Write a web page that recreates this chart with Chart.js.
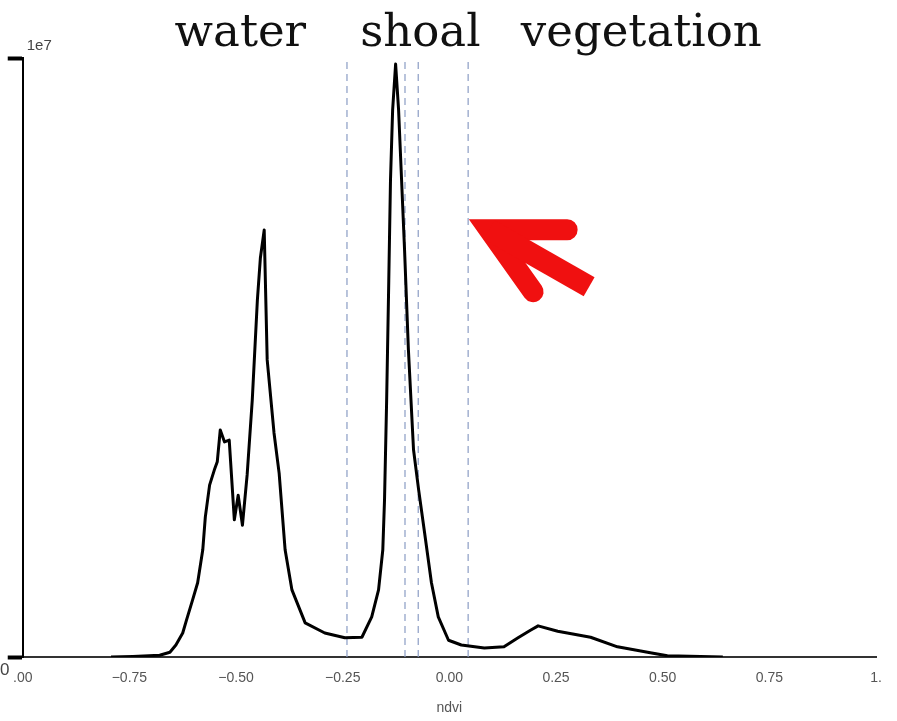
<!DOCTYPE html>
<html>
<head>
<meta charset="utf-8">
<script src="https://cdn.jsdelivr.net/npm/chart.js@4"></script>
<style>
  html, body { margin: 0; padding: 0; background: #fff; }
  #wrap { width: 897px; height: 721px; position: relative; }
</style>
</head>
<body>
<div id="wrap"><canvas id="myChart" width="897" height="721"></canvas></div>
<script>
// ndvi histogram, counts in units of 1e7
const ndvi = [-0.793, -0.742, -0.679, -0.655, -0.641, -0.625, -0.616, -0.602, -0.590, -0.578,
  -0.572, -0.562, -0.551, -0.544, -0.537, -0.527, -0.516, -0.504, -0.495, -0.485,
  -0.474, -0.462, -0.450, -0.443, -0.434, -0.427, -0.411, -0.399, -0.385, -0.369,
  -0.338, -0.292, -0.245, -0.205, -0.182, -0.166, -0.156, -0.152, -0.147, -0.142,
  -0.138, -0.133, -0.126, -0.119, -0.112, -0.105, -0.096, -0.084, -0.072, -0.058,
  -0.042, -0.026, -0.002, 0.028, 0.082, 0.128, 0.161, 0.191, 0.208, 0.254,
  0.331, 0.394, 0.471, 0.511, 0.641];
const counts = [0.000, 0.001, 0.003, 0.008, 0.020, 0.040, 0.062, 0.095, 0.124, 0.179,
  0.234, 0.287, 0.312, 0.326, 0.379, 0.359, 0.362, 0.229, 0.270, 0.220,
  0.304, 0.429, 0.596, 0.666, 0.713, 0.496, 0.374, 0.307, 0.179, 0.112,
  0.057, 0.040, 0.032, 0.033, 0.067, 0.112, 0.179, 0.262, 0.429, 0.629,
  0.796, 0.913, 0.990, 0.913, 0.796, 0.679, 0.513, 0.346, 0.279, 0.207,
  0.124, 0.067, 0.028, 0.020, 0.015, 0.017, 0.032, 0.045, 0.052, 0.043,
  0.033, 0.017, 0.007, 0.002, 0.000];

// class thresholds (dashed lines)
const thresholds = [-0.24, -0.104, -0.073, 0.044];

const xTicks = [-1, -0.75, -0.5, -0.25, 0, 0.25, 0.5, 0.75, 1];
const xTickText = [".00", "\u22120.75", "\u22120.50", "\u22120.25", "0.00", "0.25", "0.50", "0.75", "1."];

// class names over the plot, anchored at ndvi values
const classNames = ["water", "shoal", "vegetation"];
const classAt = [-0.49, -0.068, 0.45];

// arrow tip sits on the last threshold
const arrowAt = { x: 0.044, y: 0.73 };

const curve = ndvi.map((v, i) => ({ x: v, y: counts[i] }));

const datasets = [{
  data: curve,
  borderColor: "#000",
  borderWidth: 3,
  pointRadius: 0,
  tension: 0,
  borderJoinStyle: "round"
}];
thresholds.forEach(t => {
  datasets.push({
    data: [{ x: t, y: 0 }, { x: t, y: 1 }],
    borderColor: "#8a9cc4",
    borderWidth: 1.2,
    borderDash: [7, 5],
    pointRadius: 0
  });
});

const extras = {
  id: "extras",
  afterDraw(chart) {
    const ctx = chart.ctx;
    const xs = chart.scales.x, ys = chart.scales.y;
    ctx.save();
    // class names
    ctx.fillStyle = "#111";
    ctx.font = "45px 'DejaVu Serif'";
    ctx.textAlign = "center";
    ctx.textBaseline = "alphabetic";
    classNames.forEach((n, i) => {
      ctx.fillText(n, xs.getPixelForValue(classAt[i]), 46);
    });
    // offset label and zero label of y axis
    ctx.fillStyle = "#444";
    ctx.font = "15px 'Liberation Sans'";
    ctx.textAlign = "left";
    ctx.fillText("1e7", chart.chartArea.left + 4, ys.getPixelForValue(1) - 8);
    ctx.font = "17px 'Liberation Sans'";
    ctx.fillText("0", 0, ys.getPixelForValue(0) + 18);
    // red arrow
    const tx = xs.getPixelForValue(arrowAt.x);
    const ty = ys.getPixelForValue(arrowAt.y);
    const vx = tx + 21, vy = ty + 10;
    ctx.strokeStyle = "#f01010";
    ctx.lineWidth = 21;
    ctx.lineJoin = "miter";
    ctx.lineCap = "round";
    ctx.beginPath();
    ctx.moveTo(vx + 78, vy);
    ctx.lineTo(vx, vy);
    ctx.lineTo(vx + 44, vy + 62);
    ctx.stroke();
    ctx.lineCap = "butt";
    ctx.lineWidth = 22;
    ctx.beginPath();
    ctx.moveTo(vx, vy);
    ctx.lineTo(vx + 100, vy + 57);
    ctx.stroke();
    ctx.restore();
  }
};

const config = {
  type: "line",
  data: { datasets: datasets },
  options: {
    responsive: false,
    animation: false,
    events: [],
    layout: { padding: { top: 58, right: 21, left: 0, bottom: 0 } },
    plugins: { legend: { display: false }, tooltip: { enabled: false } },
    scales: {
      x: {
        type: "linear",
        min: -1,
        max: 1,
        afterBuildTicks: s => { s.ticks = xTicks.map(v => ({ value: v })); },
        afterFit: s => { s.height = 64; },
        grid: { display: false, drawTicks: false },
        border: { color: "#333", width: 2 },
        ticks: {
          padding: 13,
          color: "#555",
          font: { family: "'Liberation Sans'", size: 14 },
          maxRotation: 0,
          callback: v => xTickText[xTicks.indexOf(v)]
        },
        title: {
          display: true,
          text: "ndvi",
          color: "#555",
          font: { family: "'Liberation Sans'", size: 14 },
          padding: { top: 6 }
        }
      },
      y: {
        min: 0,
        max: 1,
        afterBuildTicks: s => { s.ticks = [{ value: 0 }, { value: 1 }]; },
        afterFit: s => { s.width = 20; },
        grid: { drawOnChartArea: false, tickLength: 15, tickWidth: 4, tickColor: "#000" },
        border: { color: "#000", width: 2 },
        ticks: { display: false }
      }
    }
  },
  plugins: [extras]
};

var myChart = new Chart(document.getElementById("myChart"), config);
</script>
</body>
</html>
